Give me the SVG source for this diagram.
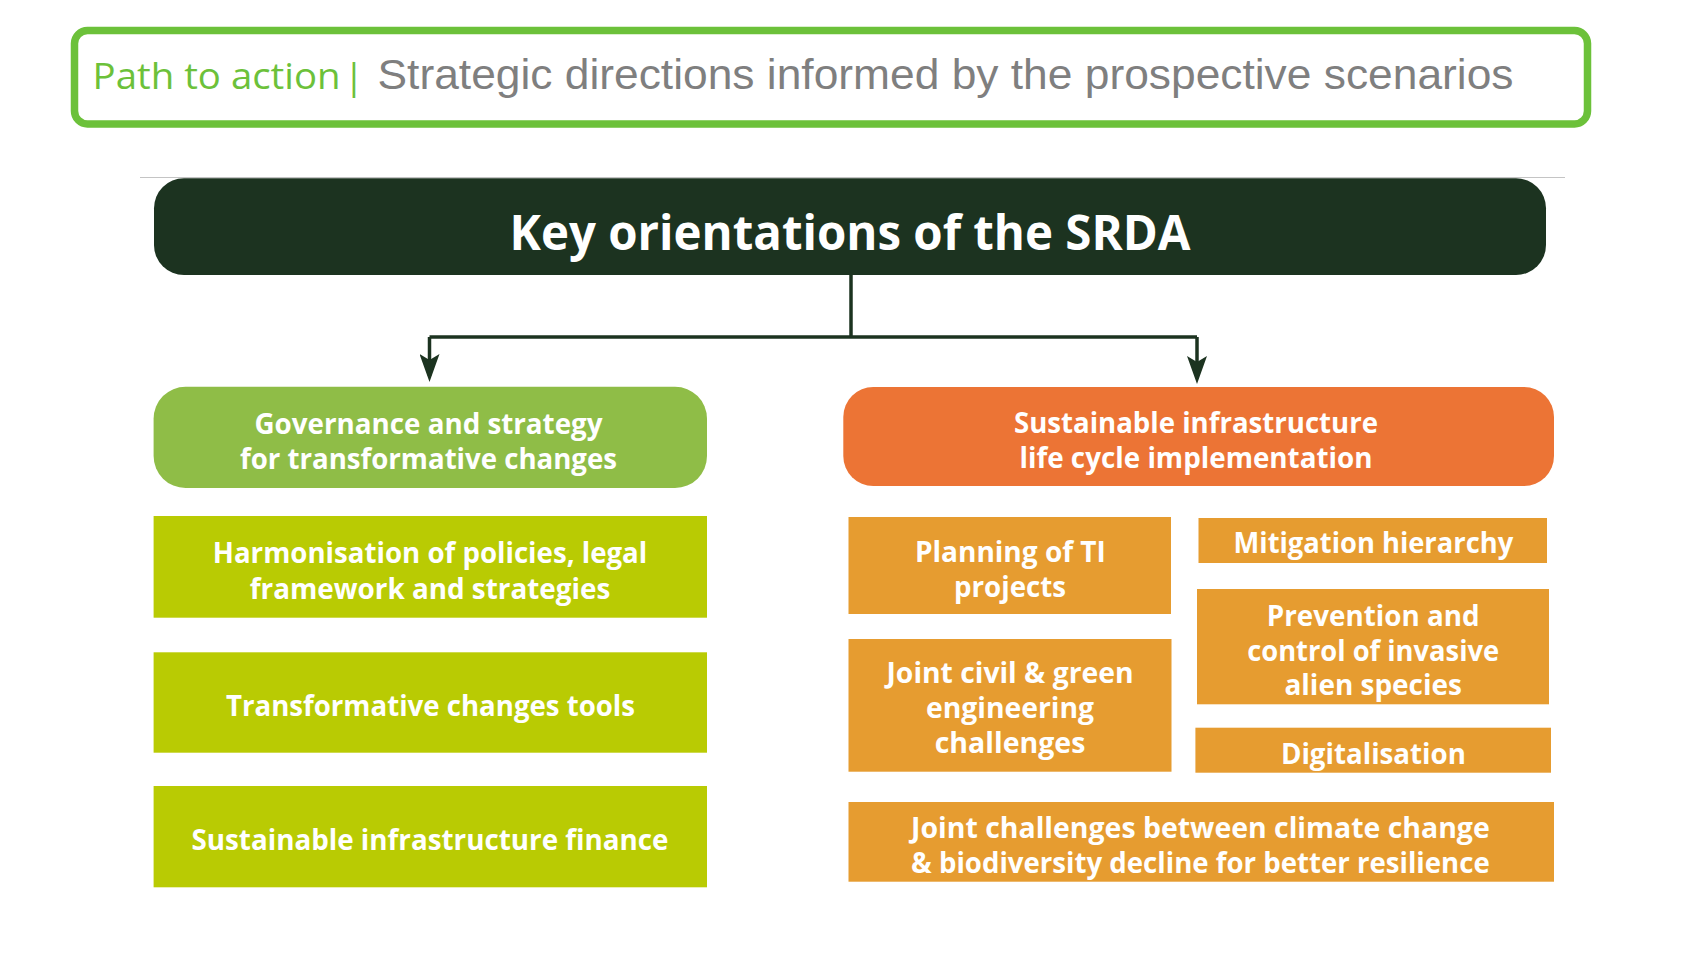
<svg xmlns="http://www.w3.org/2000/svg" width="1707" height="960" viewBox="0 0 1707 960">
  <style>
    .lbl { font-family: "Open Sans", "Noto Sans", "Liberation Sans", sans-serif; font-weight: 700; font-size: 28px; fill: #ffffff; text-anchor: middle; }
    .big { font-size: 48px; }
    .lime { fill: #b9cb03; }
    .amber { fill: #e69c30; }
    .conn { fill: none; stroke: #1c3320; stroke-width: 3.5; }
  </style>
  <defs>
    <marker id="arrow" markerUnits="userSpaceOnUse" viewBox="0 0 28 20" refX="22" refY="10" markerWidth="28" markerHeight="20" orient="auto">
      <path d="M0,0 L28,10 L0,20 L6,10 Z" fill="#1c3320"/>
    </marker>
  </defs>
  <rect x="0" y="0" width="1707" height="960" fill="#ffffff"/>

  <g id="banner">
    <rect x="74.5" y="30.5" width="1513" height="93.5" rx="13" ry="13" fill="#ffffff" stroke="#6cc13a" stroke-width="7.5"/>
    <text x="92.6" y="89.3" font-family="'Open Sans', 'Noto Sans', sans-serif" font-size="37" fill="#6cc13a" textLength="248" lengthAdjust="spacingAndGlyphs">Path to action</text>
    <text x="354" y="89.3" font-family="'Open Sans', 'Noto Sans', sans-serif" font-size="37" fill="#6cc13a" text-anchor="middle">|</text>
    <text x="377.5" y="89.3" font-family="'Liberation Sans', Arial, sans-serif" font-size="43" fill="#7f7f7f" textLength="1136" lengthAdjust="spacingAndGlyphs">Strategic directions informed by the prospective scenarios</text>
  </g>

  <line x1="140" y1="177.5" x2="1565" y2="177.5" stroke="#c4c4c4" stroke-width="1.2"/>

  <g id="connectors">
    <path class="conn" d="M851,275 V337"/>
    <path class="conn" d="M429.5,337 H1197"/>
    <path class="conn" d="M429.5,337 V376" marker-end="url(#arrow)"/>
    <path class="conn" d="M1197,337 V378" marker-end="url(#arrow)"/>
  </g>

  <g id="key-orientations">
    <rect x="154" y="178.3" width="1392" height="96.7" rx="30" ry="30" fill="#1c3320"/>
    <text class="lbl big" x="850" y="250" textLength="681" lengthAdjust="spacingAndGlyphs">Key orientations of the SRDA</text>
  </g>

  <g id="governance">
    <rect x="153.6" y="386.7" width="553.4" height="101.3" rx="32" ry="32" fill="#8fbd47"/>
    <text class="lbl" x="428.5" y="433.8" textLength="348" lengthAdjust="spacingAndGlyphs">Governance and strategy</text>
    <text class="lbl" x="428.5" y="469" textLength="377" lengthAdjust="spacingAndGlyphs">for transformative changes</text>
  </g>

  <g id="harmonisation">
    <rect class="lime" x="153.6" y="516" width="553.4" height="101.7"/>
    <text class="lbl" x="430" y="563.3" textLength="434.5" lengthAdjust="spacingAndGlyphs">Harmonisation of policies, legal</text>
    <text class="lbl" x="430" y="598.5" textLength="360.5" lengthAdjust="spacingAndGlyphs">framework and strategies</text>
  </g>

  <g id="tools">
    <rect class="lime" x="153.6" y="652.3" width="553.4" height="100.4"/>
    <text class="lbl" x="430.5" y="715.7" textLength="409" lengthAdjust="spacingAndGlyphs">Transformative changes tools</text>
  </g>

  <g id="finance">
    <rect class="lime" x="153.6" y="786" width="553.4" height="101.3"/>
    <text class="lbl" x="430" y="850" textLength="477" lengthAdjust="spacingAndGlyphs">Sustainable infrastructure finance</text>
  </g>

  <g id="lifecycle">
    <rect x="843.3" y="387" width="710.7" height="99" rx="30" ry="30" fill="#ec7435"/>
    <text class="lbl" x="1196" y="433" textLength="364" lengthAdjust="spacingAndGlyphs">Sustainable infrastructure</text>
    <text class="lbl" x="1196" y="468.3" textLength="353" lengthAdjust="spacingAndGlyphs">life cycle implementation</text>
  </g>

  <g id="planning">
    <rect class="amber" x="848.5" y="517" width="322.5" height="97"/>
    <text class="lbl" x="1010.4" y="561.7" textLength="191" lengthAdjust="spacingAndGlyphs">Planning of TI</text>
    <text class="lbl" x="1010" y="596.7" textLength="112" lengthAdjust="spacingAndGlyphs">projects</text>
  </g>

  <g id="mitigation">
    <rect class="amber" x="1198.5" y="518" width="348.5" height="45"/>
    <text class="lbl" x="1373.4" y="553" textLength="279.6" lengthAdjust="spacingAndGlyphs">Mitigation hierarchy</text>
  </g>

  <g id="prevention">
    <rect class="amber" x="1197" y="589" width="352" height="115.3"/>
    <text class="lbl" x="1373.2" y="626" textLength="212.8" lengthAdjust="spacingAndGlyphs">Prevention and</text>
    <text class="lbl" x="1373.2" y="660.7" textLength="252" lengthAdjust="spacingAndGlyphs">control of invasive</text>
    <text class="lbl" x="1373.2" y="695" textLength="177.5" lengthAdjust="spacingAndGlyphs">alien species</text>
  </g>

  <g id="joint-civil">
    <rect class="amber" x="848.5" y="639" width="323" height="132.7"/>
    <text class="lbl" x="1010" y="683.3" textLength="247" lengthAdjust="spacingAndGlyphs">Joint civil &amp; green</text>
    <text class="lbl" x="1010" y="718.3" textLength="168" lengthAdjust="spacingAndGlyphs">engineering</text>
    <text class="lbl" x="1010" y="753.3" textLength="150.7" lengthAdjust="spacingAndGlyphs">challenges</text>
  </g>

  <g id="digitalisation">
    <rect class="amber" x="1195.4" y="727.7" width="355.6" height="45"/>
    <text class="lbl" x="1373.4" y="764" textLength="185" lengthAdjust="spacingAndGlyphs">Digitalisation</text>
  </g>

  <g id="joint-challenges">
    <rect class="amber" x="848.5" y="802" width="705.5" height="79.7"/>
    <text class="lbl" x="1200.4" y="837.7" textLength="578.6" lengthAdjust="spacingAndGlyphs">Joint challenges between climate change</text>
    <text class="lbl" x="1200.4" y="872.7" textLength="578.6" lengthAdjust="spacingAndGlyphs">&amp; biodiversity decline for better resilience</text>
  </g>
</svg>
